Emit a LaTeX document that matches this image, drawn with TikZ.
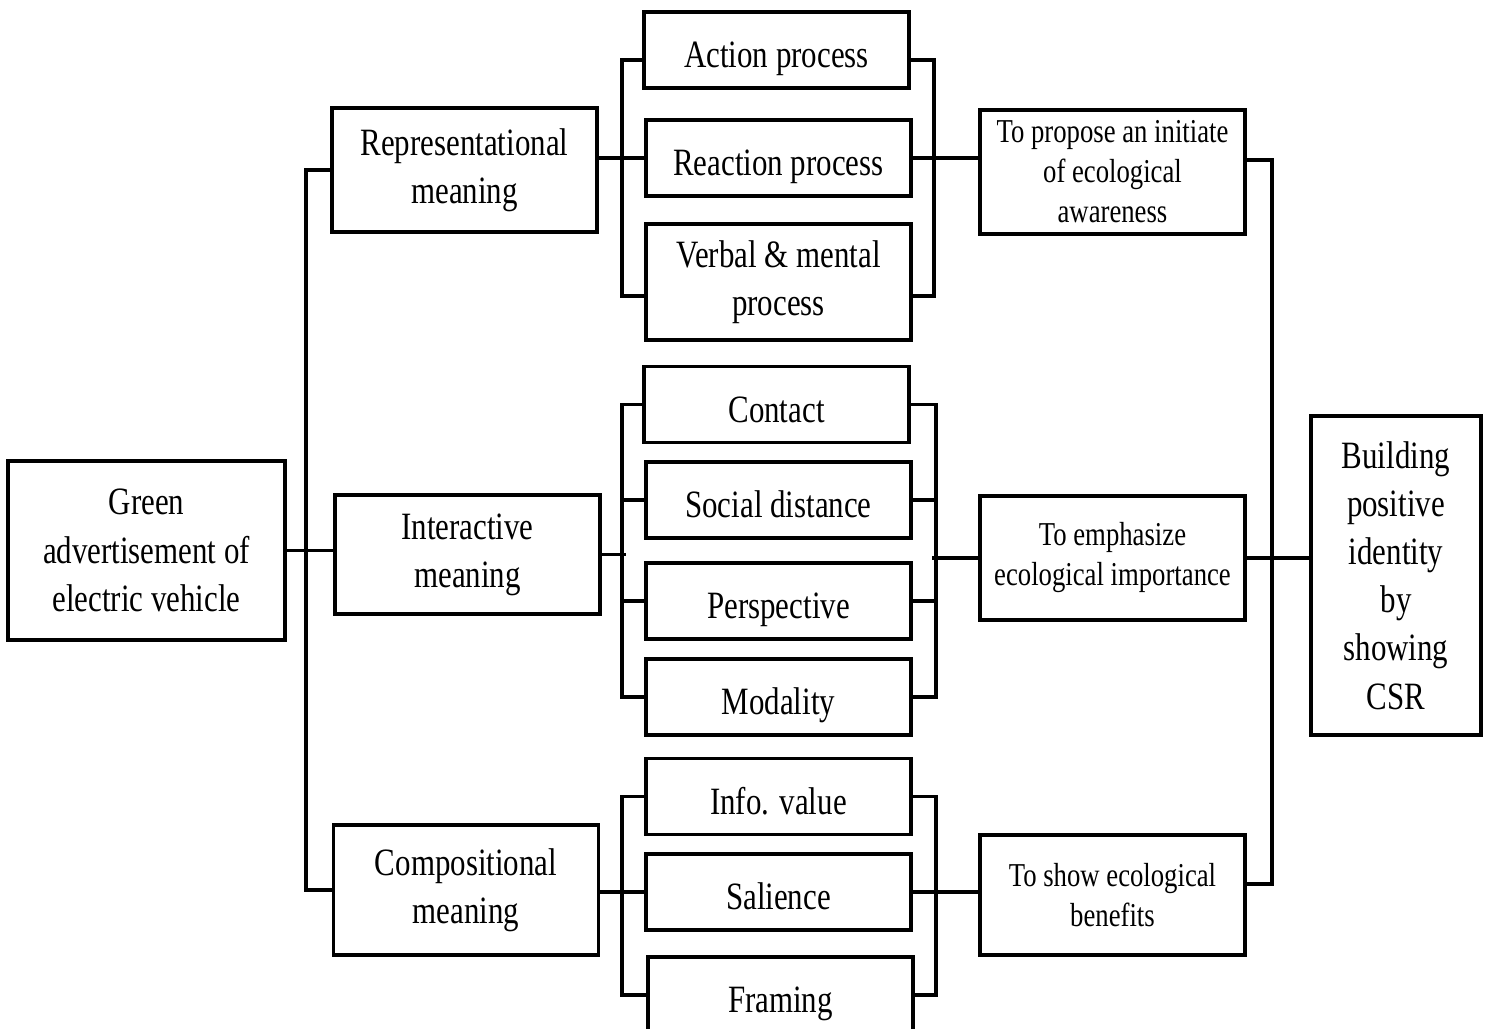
\documentclass[tikz,border=0pt]{standalone}
\usepackage{fontspec}
\setmainfont{Liberation Serif}[FakeStretch=0.8]

\begin{document}
\begin{tikzpicture}[line width=1pt,
	box/.style={draw, align=center, inner sep=0pt, minimum width=2.65cm, minimum height=0.76cm, font=\fontsize{11}{13.7}\selectfont},
	item/.style={box, text height=4.4mm, text depth=0.8mm},
	goal/.style={box, minimum height=1.24cm, font=\fontsize{9.5}{11.4}\selectfont}]
	\useasboundingbox (0,0) rectangle (14.88,-10.29);
	% left part
	\node[box, minimum width=2.77cm, minimum height=1.79cm] (green) at (1.465,-5.505) {Green\\advertisement of\\electric vehicle};
	\node[box, minimum height=1.24cm] (rep) at (4.645,-1.70) {Representational\\meaning};
	\node[box, minimum height=1.19cm] (inter) at (4.675,-5.545) {Interactive\\meaning};
	\node[box, minimum height=1.30cm] (comp) at (4.66,-8.90) {Compositional\\meaning};
	% middle column
	\node[item] (action) at (7.765,-0.50) {Action process};
	\node[item] (reaction) at (7.785,-1.58) {Reaction process};
	\node[box, minimum height=1.16cm] (verbal) at (7.785,-2.82) {Verbal \& mental\\process};
	\node[item] (contact) at (7.765,-4.045) {Contact};
	\node[item] (social) at (7.785,-5.00) {Social distance};
	\node[item] (persp) at (7.785,-6.01) {Perspective};
	\node[item] (modal) at (7.785,-6.97) {Modality};
	\node[item] (info) at (7.785,-7.965) {Info. value};
	\node[item] (salience) at (7.785,-8.92) {Salience};
	\node[item] (framing) at (7.805,-9.95) {Framing};
	% right part
	\node[goal] (propose) at (11.125,-1.72) {To propose an initiate\\of ecological\\awareness};
	\node[goal] (emph) at (11.125,-5.58) {To emphasize\\ecological importance};
	\node[goal, minimum height=1.20cm] (show) at (11.125,-8.95) {To show ecological\\benefits};
	\node[box, minimum width=1.70cm, minimum height=3.19cm] (csr) at (13.96,-5.755) {Building\\positive\\identity\\by\\showing\\CSR};
	% left trunk
	\draw (green.east) -- (green.east -| inter.west);
	\draw (rep.west) -- ++(-0.24,0) |- (comp.west);
	% representational
	\draw ([yshift=-1mm]action.west) -- ++(-0.2,0) |- ([yshift=-1.4mm]verbal.west);
	\draw (reaction.west -| rep.east) -- (reaction.west);
	\draw ([yshift=-1mm]action.east) -- ++(0.23,0) |- ([yshift=-1.4mm]verbal.east);
	\draw (reaction.east) -- (reaction.east -| propose.west);
	% interactive
	\draw (contact.west) -- ++(-0.2,0) |- (modal.west);
	\foreach \n in {social,persp}
		\draw (\n.west) -- ++(-0.22,0);
	\draw (inter.east) -- ++(0.24,0);
	\draw (contact.east) -- ++(0.25,0) |- (modal.east);
	\foreach \n in {social,persp}
		\draw (\n.east) -- ++(0.23,0);
	\draw (emph.west) -- ++(-0.46,0);
	% compositional
	\draw (info.west) -- ++(-0.22,0) |- (framing.west);
	\draw (salience.west -| comp.east) -- (salience.west);
	\draw (info.east) -- ++(0.23,0) |- (framing.east);
	\draw (salience.east) -- (salience.east -| show.west);
	% right trunk
	\draw ([yshift=1.2mm]propose.east) -- ++(0.25,0) |- ([yshift=1.1mm]show.east);
	\draw (emph.east) -- (emph.east -| csr.west);
\end{tikzpicture}
\end{document}
